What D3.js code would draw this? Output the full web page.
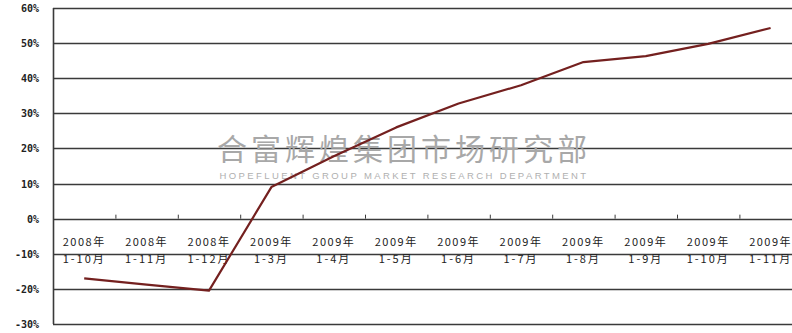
<html lang="zh">
<head>
  <meta charset="utf-8">
  <script src="https://d3js.org/d3.v7.min.js"></script>
  <style>
    body { margin: 0; background: white; }
    svg { display: block; }
  </style>
</head>
<body>
  <svg id="chart" width="792" height="333"></svg>
  <script>
    // data
    const years = ["2008年","2008年","2008年","2009年","2009年","2009年","2009年","2009年","2009年","2009年","2009年","2009年"];
    const months = ["1-10月","1-11月","1-12月","1-3月","1-4月","1-5月","1-6月","1-7月","1-8月","1-9月","1-10月","1-11月"];
    const growth = [-17, -18.8, -20.5, 9, 17.8, 26, 32.8, 38, 44.6, 46.3, 49.8, 54.3];
    const yTicks = [60, 50, 40, 30, 20, 10, 0, -10, -20, -30];

    const svg = d3.select("#chart");
    const margin = { top: 8, left: 53 };
    const bandW = 62.4;

    const x = d3.scaleBand()
                .domain(d3.range(years.length))
                .range([margin.left, margin.left + bandW * years.length]);

    const y = d3.scaleLinear()
                .domain([-30, 60])
                .range([324, 8]);

    // gridlines
    svg.selectAll("line.grid")
       .data(yTicks)
       .enter()
       .append("line")
       .attr("class", "grid")
       .attr("x1", margin.left)
       .attr("x2", 792)
       .attr("y1", d => Math.round(y(d)) + 0.5)
       .attr("y2", d => Math.round(y(d)) + 0.5)
       .attr("stroke", "#3a3a3a")
       .attr("stroke-width", 1.6);

    // y axis
    svg.append("line")
       .attr("x1", margin.left + 0.5).attr("x2", margin.left + 0.5)
       .attr("y1", y(60)).attr("y2", y(-30))
       .attr("stroke", "#3a3a3a")
       .attr("stroke-width", 1.6);

    svg.selectAll("text.ylab")
       .data(yTicks)
       .enter()
       .append("text")
       .attr("class", "ylab")
       .attr("x", 39)
       .attr("y", d => y(d) + 4)
       .attr("text-anchor", "end")
       .attr("font-family", "DejaVu Sans Mono, monospace")
       .attr("font-size", 10)
       .attr("font-weight", "bold")
       .attr("fill", "#222")
       .text(d => d + "%");

    // category tick marks on the 0% line
    svg.selectAll("line.xtick")
       .data(d3.range(1, years.length))
       .enter()
       .append("line")
       .attr("class", "xtick")
       .attr("x1", i => x(i) + 0.5).attr("x2", i => x(i) + 0.5)
       .attr("y1", y(0) - 4).attr("y2", y(0))
       .attr("stroke", "#3a3a3a")
       .attr("stroke-width", 1);

    // watermark
    svg.append("text")
       .attr("x", 404)
       .attr("y", 160)
       .attr("text-anchor", "middle")
       .attr("font-family", "Noto Sans CJK SC")
       .attr("font-size", 30)
       .attr("letter-spacing", 4)
       .attr("fill", "#a8a8a8")
       .text("合富辉煌集团市场研究部");

    svg.append("text")
       .attr("x", 404)
       .attr("y", 179)
       .attr("text-anchor", "middle")
       .attr("font-family", "Liberation Sans, Arial")
       .attr("font-size", 9.5)
       .attr("letter-spacing", 2.4)
       .attr("fill", "#b0b0b0")
       .text("HOPEFLUENT GROUP MARKET RESEARCH DEPARTMENT");

    // category labels
    const labels = svg.selectAll("g.xlab")
       .data(d3.range(years.length))
       .enter()
       .append("g")
       .attr("class", "xlab")
       .attr("font-family", "Noto Sans CJK SC")
       .attr("font-size", 11)
       .attr("fill", "#222")
       .attr("text-anchor", "middle");

    labels.append("text")
       .attr("x", i => x(i) + x.bandwidth() / 2)
       .attr("y", 246)
       .attr("letter-spacing", 1.5)
       .text(i => years[i]);

    labels.append("text")
       .attr("x", i => x(i) + x.bandwidth() / 2)
       .attr("y", 263)
       .attr("letter-spacing", 2)
       .text(i => months[i]);

    // series line
    const line = d3.line()
                   .x((d, i) => x(i) + x.bandwidth() / 2)
                   .y(d => y(d));

    svg.append("path")
       .datum(growth)
       .attr("fill", "none")
       .attr("stroke", "#74201f")
       .attr("stroke-width", 2.2)
       .attr("stroke-linejoin", "round")
       .attr("d", line);
  </script>
</body>
</html>
